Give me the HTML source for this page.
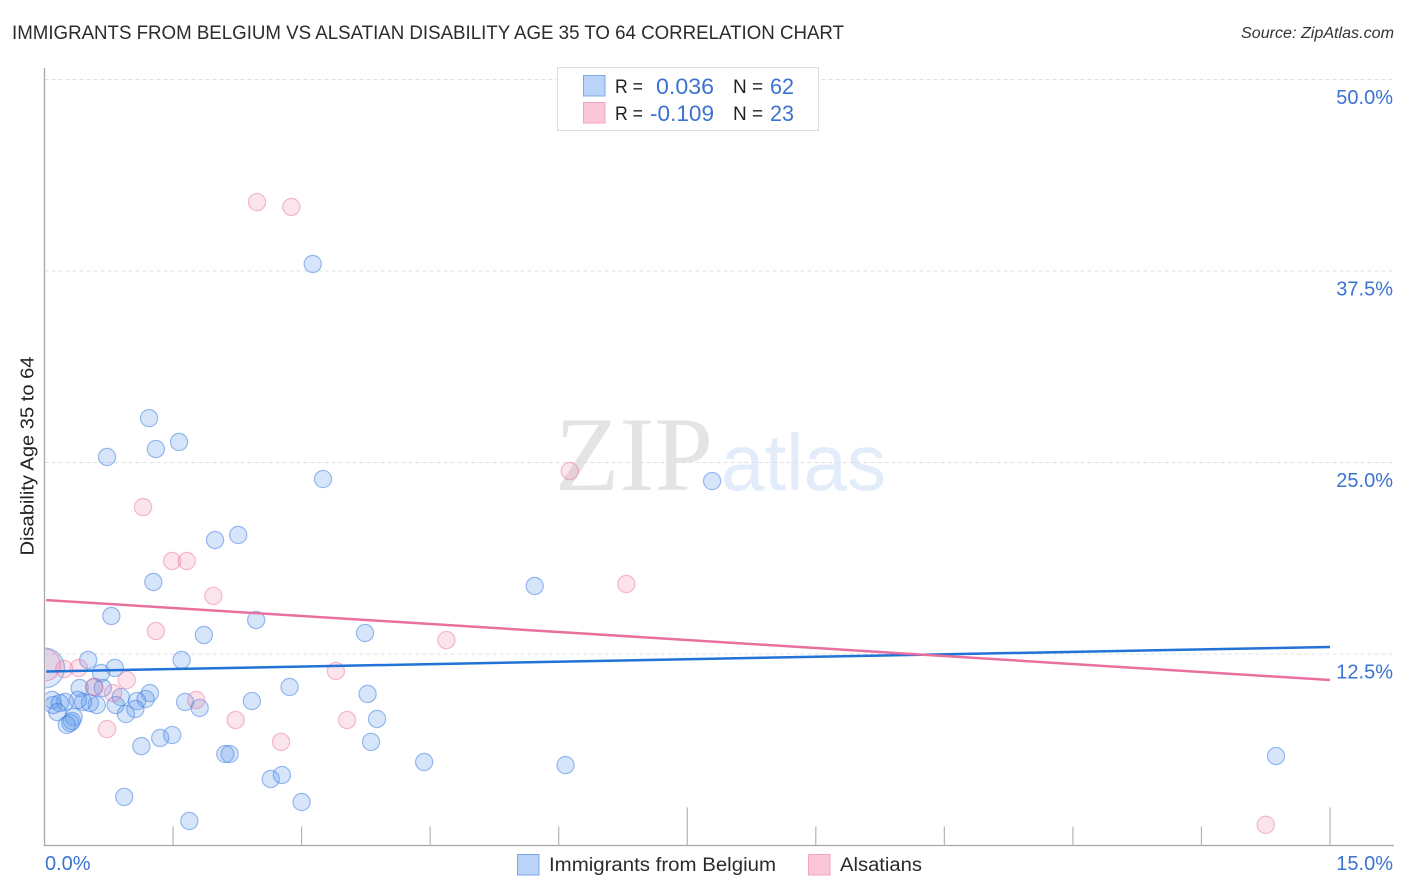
<!DOCTYPE html>
<html lang="en">
<head>
<meta charset="utf-8">
<title>Immigrants from Belgium vs Alsatian Disability Age 35 to 64 Correlation Chart</title>
<style>
html,body{margin:0;padding:0;background:#fff;}
svg{display:block;font-family:"Liberation Sans",sans-serif;}
</style>
</head>
<body>
<svg id="chart" xmlns="http://www.w3.org/2000/svg" width="1406" height="892" viewBox="0 0 1406 892">
  <defs>
    <clipPath id="plot-clip"><rect x="45.5" y="60" width="1349" height="786"></rect></clipPath>
  </defs>
  <rect x="0" y="0" width="1406" height="892" fill="#ffffff"></rect>
  <text x="12" y="39" font-size="19" fill="#2b2b2b" textLength="832" lengthAdjust="spacingAndGlyphs">IMMIGRANTS FROM BELGIUM VS ALSATIAN DISABILITY AGE 35 TO 64 CORRELATION CHART</text>
  <text x="1241" y="38" font-size="15.5" font-style="italic" fill="#333333" textLength="153" lengthAdjust="spacingAndGlyphs">Source: ZipAtlas.com</text>

  <g>
    <text x="555" y="490" font-family="'Liberation Serif',serif" font-size="106" fill="#e4e4e4" textLength="158" lengthAdjust="spacingAndGlyphs">ZIP</text>
    <text x="721" y="490" font-size="80" fill="#e2ecfa" textLength="165" lengthAdjust="spacingAndGlyphs">atlas</text>
  </g>

  <g id="grid"></g>
  <g id="marks" clip-path="url(#plot-clip)"></g>
  <rect x="0" y="60" width="44" height="786" fill="#ffffff"></rect>
  <g id="axes"></g>
  <g id="trends"></g>
  <g id="labels"></g>

  <text transform="translate(33.5,456) rotate(-90)" font-size="18" fill="#222222" text-anchor="middle" textLength="199" lengthAdjust="spacingAndGlyphs">Disability Age 35 to 64</text>

  <g>
    <rect x="557.5" y="67.5" width="261" height="63" fill="#ffffff" stroke="#dddddd" stroke-width="1"></rect>
    <rect x="583.5" y="75.5" width="21.5" height="20.5" fill="#b9d4f8" stroke="#7ba9e6" stroke-width="1"></rect>
    <rect x="583.5" y="102.5" width="21.5" height="20.5" fill="#fbc6d8" stroke="#f1a4bf" stroke-width="1"></rect>
    <text x="615" y="93" font-size="19" fill="#222222" textLength="28" lengthAdjust="spacingAndGlyphs">R =</text>
    <text x="656" y="94" font-size="22" fill="#3b73d1" textLength="58" lengthAdjust="spacingAndGlyphs">0.036</text>
    <text x="733" y="93" font-size="19" fill="#222222">N =</text>
    <text x="770" y="94" font-size="22" fill="#3b73d1" textLength="24" lengthAdjust="spacingAndGlyphs">62</text>
    <text x="615" y="120" font-size="19" fill="#222222" textLength="28" lengthAdjust="spacingAndGlyphs">R =</text>
    <text x="650" y="121" font-size="22" fill="#3b73d1" textLength="64" lengthAdjust="spacingAndGlyphs">-0.109</text>
    <text x="733" y="120" font-size="19" fill="#222222">N =</text>
    <text x="770" y="121" font-size="22" fill="#3b73d1" textLength="24" lengthAdjust="spacingAndGlyphs">23</text>
  </g>

  <g>
    <rect x="517.5" y="854.5" width="21.5" height="20.5" fill="#b9d4f8" stroke="#7ba9e6" stroke-width="1"></rect>
    <text x="549" y="871" font-size="19" fill="#2b2b2b" textLength="227" lengthAdjust="spacingAndGlyphs">Immigrants from Belgium</text>
    <rect x="808.5" y="854.5" width="21.5" height="20.5" fill="#fbc6d8" stroke="#f1a4bf" stroke-width="1"></rect>
    <text x="840" y="871" font-size="19" fill="#2b2b2b" textLength="82" lengthAdjust="spacingAndGlyphs">Alsatians</text>
  </g>
</svg>
<script>
var xTickValues = [0, 1.5, 3, 4.5, 6, 7.5, 9, 10.5, 12, 13.5, 15];
var xMajorTicks = [7.5, 15];
var xTickLabelValues = ["0.0%", "15.0%"];
var yTickValues = [12.5, 25, 37.5, 50];
var yTickLabels = ["12.5%", "25.0%", "37.5%", "50.0%"];

var belgiumX = [3.13,1.22,1.30,1.57,0.73,3.25,7.79,1.99,2.26,1.27,5.72,0.78,2.47,1.86,3.74,0.51,1.60,0.82,0.66,0.41,0.58,0.68,0.89,0.83,1.23,1.18,1.08,1.06,0.95,0.61,0.53,0.45,0.39,0.24,0.09,0.10,0.18,0.15,0.34,0.32,0.30,0.26,1.64,1.81,2.42,2.86,3.77,3.88,3.81,1.13,1.35,1.49,2.11,2.16,4.43,6.08,2.64,2.77,0.93,3.00,1.69,14.37];
var belgiumY = [37.96,27.90,25.88,26.34,25.36,23.92,23.79,19.94,20.27,17.20,16.94,14.98,14.72,13.74,13.87,12.11,12.11,11.59,11.26,10.28,10.35,10.28,9.69,9.17,9.95,9.56,9.43,8.91,8.58,9.17,9.30,9.37,9.50,9.37,9.50,9.17,9.30,8.71,8.39,8.13,8.00,7.87,9.37,8.98,9.43,10.35,9.89,8.26,6.76,6.49,7.02,7.21,5.97,5.97,5.45,5.25,4.34,4.60,3.17,2.84,1.60,5.84];
var alsatianX = [2.48,2.88,6.13,1.15,1.49,1.66,1.97,6.79,1.30,4.69,3.40,0.23,0.40,0.96,0.58,0.80,1.77,2.23,3.53,0.73,2.76,14.25];
var alsatianY = [42.00,41.68,24.44,22.09,18.57,18.57,16.29,17.07,14.00,13.41,11.39,11.52,11.59,10.80,10.35,9.95,9.50,8.19,8.19,7.60,6.76,1.35];
var aggregateBelgium = [0, 11.59];
var aggregateAlsatian = [0, 11.78];
var belgiumTrendX = [0.02, 15];
var belgiumTrendY = [11.36, 12.96];
var alsatianTrendX = [0.02, 15];
var alsatianTrendY = [16.02, 10.80];

var NS = 'http://www.w3.org/2000/svg';
function xScale(v){ return 44.5 + v * (1330 - 44.5) / 15; }
function yScale(v){ return 845.5 - v * (845.5 - 79.5) / 50; }
function make(tag, attrs, parent, text){
  var el = document.createElementNS(NS, tag);
  for (var k in attrs) el.setAttribute(k, attrs[k]);
  if (text !== undefined) el.textContent = text;
  parent.appendChild(el);
  return el;
}
var gridG = document.getElementById('grid');
var axesG = document.getElementById('axes');
var marksG = document.getElementById('marks');
var trendsG = document.getElementById('trends');
var labelsG = document.getElementById('labels');

yTickValues.forEach(function(v, i){
  var line = make('line', {x1:44.5, x2:1394, y1:yScale(v), y2:yScale(v), stroke:'#e0e0e0', 'stroke-width':1, 'stroke-dasharray':'4 3'}, gridG);
  
  
  var lab = make('text', {x:1393, y:yScale(v) + 24.5, 'font-size':20, fill:'#3b73d1', 'text-anchor':'end'}, labelsG, yTickLabels[i]);
  
  
});

var yAxis = make('line', {x1:44.5, x2:44.5, y1:68, y2:846, stroke:'#a8a8a8', 'stroke-width':1.3}, axesG);


var xAxis = make('line', {x1:44, x2:1394, y1:845.5, y2:845.5, stroke:'#a8a8a8', 'stroke-width':1.3}, axesG);



xTickValues.forEach(function(v){
  if (v === 0) return;
  var top = xMajorTicks.indexOf(v) >= 0 ? 807.5 : 826.5;
  var t = make('line', {x1:xScale(v), x2:xScale(v), y1:top, y2:845.5, stroke:'#b4b4b4', 'stroke-width':1.2}, axesG);
  
  
});

var x0 = make('text', {x:45, y:870, 'font-size':20, fill:'#3b73d1'}, labelsG, xTickLabelValues[0]);


var x1 = make('text', {x:1393, y:870, 'font-size':20, fill:'#3b73d1', 'text-anchor':'end'}, labelsG, xTickLabelValues[1]);



var aggB = make('circle', {cx:xScale(aggregateBelgium[0]), cy:yScale(aggregateBelgium[1]), r:20, fill:'rgba(90,150,235,0.2)', stroke:'rgba(60,125,225,0.5)', 'stroke-width':1.2}, marksG);



belgiumX.forEach(function(v, i){
  var c = make('circle', {cx:xScale(v), cy:yScale(belgiumY[i]), r:8.6, fill:'rgba(90,150,235,0.25)', stroke:'rgba(60,125,225,0.5)', 'stroke-width':1.2}, marksG);
  
  
});

var aggA = make('circle', {cx:xScale(aggregateAlsatian[0]), cy:yScale(aggregateAlsatian[1]), r:16, fill:'rgba(240,120,160,0.2)', stroke:'rgba(230,110,155,0.5)', 'stroke-width':1.2}, marksG);



alsatianX.forEach(function(v, i){
  var c = make('circle', {cx:xScale(v), cy:yScale(alsatianY[i]), r:8.6, fill:'rgba(240,120,160,0.2)', stroke:'rgba(230,110,155,0.45)', 'stroke-width':1.2}, marksG);
  
  
});

var lineB = make('line', {x1:xScale(belgiumTrendX[0]), x2:xScale(belgiumTrendX[1]), y1:yScale(belgiumTrendY[0]), y2:yScale(belgiumTrendY[1]), stroke:'#2272d8', 'stroke-width':2.5}, trendsG);


var lineA = make('line', {x1:xScale(alsatianTrendX[0]), x2:xScale(alsatianTrendX[1]), y1:yScale(alsatianTrendY[0]), y2:yScale(alsatianTrendY[1]), stroke:'#e8709f', 'stroke-width':2.5}, trendsG);


</script>
</body>
</html>
